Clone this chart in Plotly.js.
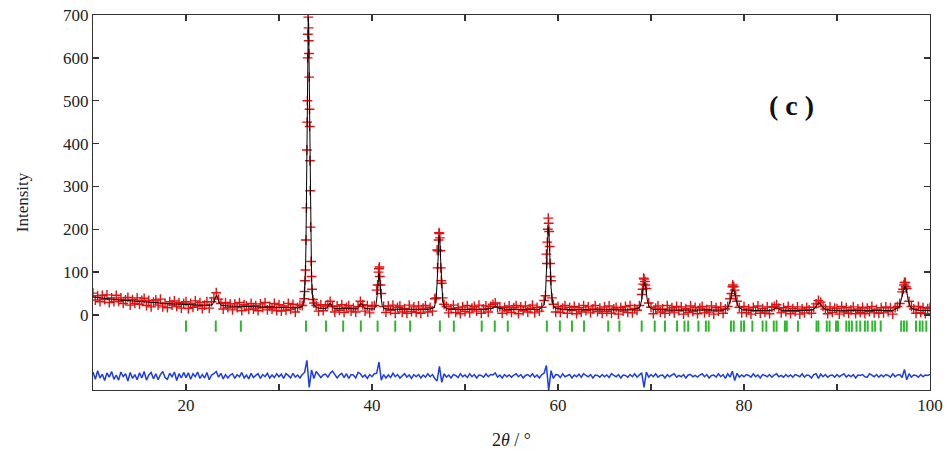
<!DOCTYPE html>
<html>
<head>
<meta charset="utf-8">
<script src="https://cdn.plot.ly/plotly-3.0.1.min.js"></script>
<style>html,body{margin:0;padding:0;background:#fff;}#chart{width:946px;height:452px;}</style>
</head>
<body>
<div id="chart"></div>
<script>
// ---- Observed intensity on a 0.25° grid from 10° to 100° ----
const obsStart = 10, obsStep = 0.25;
const obsY = [
51,35,45,31,46,36,47,29,40,31,46,32,40,27,35,41,23,36,27,40,
25,34,39,22,34,19,30,35,23,37,19,27,17,31,23,33,20,29,16,27,
31,15,27,18,33,21,29,15,23,31,16,31,40,52,37,27,14,29,17,26,
12,26,17,29,10,24,21,13,27,14,22,10,26,17,29,12,20,14,27,10,
24,9,21,11,27,13,25,7,18,23,22,55,385,555,90,28,22,9,24,10,
21,24,32,20,7,21,11,24,6,18,22,9,16,7,20,32,24,9,22,5,
20,22,58,108,50,20,6,21,11,23,4,18,21,7,15,4,23,8,19,6,
21,4,16,22,7,18,9,38,152,190,74,25,20,5,15,23,6,17,3,19,
8,22,5,16,20,9,23,4,14,21,7,20,25,28,18,19,4,18,10,21,
6,17,22,3,19,10,21,7,15,23,5,18,9,18,34,142,214,80,25,7,
20,6,16,22,4,18,11,20,3,17,7,22,10,19,5,14,22,8,16,4,
19,8,21,4,14,18,2,17,9,20,6,22,5,15,11,22,48,84,62,28,
18,3,16,21,7,14,4,22,9,17,5,20,10,19,2,15,6,21,8,18,
3,16,20,5,13,7,21,2,17,9,19,4,14,20,38,66,58,32,18,5,
20,6,14,2,18,9,21,4,15,7,19,3,18,20,24,16,5,17,8,20,
3,15,8,19,2,14,5,18,12,4,18,26,34,30,20,14,3,19,6,16,
15,2,20,7,17,4,12,19,3,14,6,18,3,16,8,20,5,13,4,17,
5,19,8,17,2,17,20,27,54,76,62,32,20,14,4,20,6,17,3,15,18
];
// extra observed points recorded across the peaks
const peakObsX = [32.7,32.8,32.85,32.9,32.95,33.02,33.05,33.08,33.1,33.13,33.15,33.18,33.2,33.22,33.28,33.3,33.32,33.35,33.4,33.45,33.55,33.65,
  40.6,40.7,40.8,40.85,40.9,46.9,47.05,47.1,47.15,47.2,47.3,47.35,47.4,47.45,47.6,
  58.65,58.8,58.85,58.9,58.95,59.05,59.1,59.15,59.2,59.35,69.1,69.15,69.2,69.35,69.4,
  78.65,78.8,78.9,79.1,97.1,97.2,97.35,97.4];
const peakObsY = [38,80,105,175,250,450,500,600,655,702,695,670,640,610,480,440,360,290,205,125,60,36,
  70,100,112,90,70,40,110,150,175,192,180,150,110,80,40,
  45,120,170,200,226,195,160,120,90,40,60,72,86,78,70,
  50,70,66,45,60,70,76,66];

// ---- Calculated profile ----
const calcX = [
10,11,12,13,14,15,16,17,18,19,
20,21,22,22.8,23.0,23.15,23.3,23.45,23.6,23.8,
24.5,26,28,30,32,32.5,32.6,32.7,32.8,32.85,
32.9,32.95,33.0,33.05,33.1,33.15,33.2,33.25,33.3,33.35,
33.4,33.45,33.5,33.6,33.7,33.8,34.2,35.1,35.3,35.5,
35.7,35.9,37,38.4,38.6,38.8,39.0,39.2,40.2,40.4,
40.55,40.65,40.75,40.85,40.95,41.1,41.3,42,44,46,
46.7,46.9,47.0,47.1,47.2,47.25,47.3,47.4,47.5,47.6,
47.8,48.2,50,52,53.0,53.3,53.6,54.5,56,58,
58.5,58.65,58.75,58.85,58.95,59.05,59.15,59.25,59.4,59.6,
60.5,62,64,66,68,68.8,69.0,69.15,69.3,69.45,
69.6,69.8,70.2,72,74,76,77.8,78.3,78.55,78.7,
78.85,79.0,79.15,79.4,79.8,81,83,83.5,84,86,
87.4,87.7,87.95,88.15,88.4,88.8,90,92,94,96,
96.7,96.95,97.15,97.3,97.45,97.65,97.9,98.4,99,100];
const calcY = [
42,39,37,35,33,31,29.5,28,26.5,25.5,
24.5,23.5,22.5,23.5,30,40,46,38,28,22.5,
21,20,18.5,17.5,16.5,20,24,36,70,105,
165,255,375,505,630,695,650,560,430,300,
200,130,85,45,28,21,16,15.5,22,28,
20,15,14.8,14.4,19,28,23,15,14,20,
45,80,98,80,45,22,15,13.6,13.2,13,
17,38,75,140,180,185,175,120,65,35,
18,13.5,13,13,16,21,16,13,13,13,
24,45,100,170,205,180,115,65,30,17,
12.5,12.5,12.3,12,12,18,35,60,76,62,
35,19,13,11.5,11.5,11,11.5,18,35,52,
60,52,35,19,12,10.5,11,17,11,10,
12,18,27,28,20,12,10,10,10,10.5,
19,40,62,68,60,35,18,12,10.5,10.5];

// ---- Difference (obs - calc) on the 0.25° grid ----
const diffY = [
9,-8,12,-5,4,-11,7,-3,10,-8,2,-10,9,-2,5,-12,8,-6,3,-9,
7,-5,10,-10,2,8,-7,5,-9,3,10,-4,-8,6,-2,9,-11,5,-5,8,
-4,7,-8,5,-2,9,-6,3,-5,8,-9,2,5,10,-3,6,-7,3,-5,2,
5,-6,3,-2,8,-5,2,-7,6,-4,1,5,-6,3,-2,6,-5,2,-4,5,
-2,4,-6,5,1,-5,6,-3,2,-5,3,8,36,-27,14,-6,10,4,-4,2,
4,-3,6,11,3,-5,2,6,-4,5,-6,3,2,-5,8,5,-3,2,-6,3,
-2,5,6,32,-10,3,-5,2,-4,6,-2,3,-5,1,5,-3,2,-6,3,-2,
3,-5,2,-3,5,-2,3,-6,-12,22,-15,5,-3,2,-5,3,1,-4,5,-2,
2,-4,5,-2,3,-5,2,1,-3,5,-2,3,2,7,-3,2,-5,3,-2,2,
-3,2,5,-2,3,-5,1,3,-2,5,-3,2,-5,3,6,24,-34,12,-6,3,
2,-4,5,-2,1,3,-5,2,-2,4,-3,5,1,-2,3,-5,2,1,-3,3,
-2,2,-4,5,1,-2,3,-5,2,1,-3,3,-2,5,-3,2,7,-27,9,-3,
3,-2,5,-3,1,2,-5,3,-2,2,5,-3,1,-2,3,-5,2,3,-2,1,
-3,2,5,-2,3,-5,1,2,-3,5,-2,3,-6,5,-3,11,-11,6,-3,2,
-2,3,1,-3,5,-2,2,-5,3,1,-2,3,-3,2,5,-2,1,-3,3,-2,
2,-3,3,1,-2,5,-3,2,1,-5,3,5,-6,4,-2,3,-3,1,2,-3,
3,-2,1,5,-3,2,-2,3,-5,2,1,3,-2,-3,5,1,-2,3,-3,2,
-2,3,1,-3,5,-2,2,3,-4,15,-9,5,-3,2,1,-3,3,-2,2,1,3
];

// ---- Bragg reflection positions ----
const braggPos = [20.0,23.2,25.9,32.9,35.05,36.9,38.8,40.6,42.5,44.1,47.3,48.8,51.8,53.2,54.6,58.8,60.2,61.5,62.8,65.4,66.6,
  69.0,70.4,71.5,72.8,73.6,74.0,75.1,75.9,76.2,78.6,78.9,79.7,80.0,80.9,82.0,82.4,83.2,83.5,84.4,84.6,85.8,
  87.8,88.0,88.9,89.2,89.9,90.1,91.0,91.3,91.6,92.1,92.5,93.0,93.3,93.8,94.1,94.7,96.9,97.2,97.5,98.5,98.9,99.2,99.6];

// ---- Axis ticks ----
const xTickVals = [20,30,40,50,60,70,80,90,100];
const xTickText = ['20','','40','','60','','80','','100'];
const yTickVals = [0,100,200,300,400,500,600,700];

// display offsets
const diffOffset = -142;
const braggRowY = -26;

const gridX = obsY.map((_, i) => obsStart + obsStep * i);
const diffX = diffY.map((_, i) => obsStart + obsStep * i);
const obsX = gridX.concat(peakObsX);
const obsAll = obsY.concat(peakObsY);

const red = 'rgb(222,18,18)';
const traces = [
  {x: obsX, y: obsAll, type: 'scatter', mode: 'markers', name: 'obs',
   marker: {symbol: 'cross-thin', size: 7, line: {width: 1.4, color: red}, color: red}},
  {x: calcX, y: calcY, type: 'scatter', mode: 'lines', name: 'calc',
   line: {color: '#000', width: 1}},
  {x: diffX, y: diffY.map(v => v + diffOffset), type: 'scatter', mode: 'lines', name: 'diff',
   line: {color: 'rgb(30,60,235)', width: 1.5}},
  {x: braggPos, y: braggPos.map(() => braggRowY), type: 'scatter', mode: 'markers', name: 'Bragg',
   marker: {symbol: 'line-ns', size: 8, line: {width: 2, color: 'rgb(45,185,45)'}}}
];

const serif = 'Liberation Serif, Times New Roman, serif';
const layout = {
  width: 946, height: 452,
  margin: {l: 93, r: 16, t: 15, b: 62},
  paper_bgcolor: '#fff', plot_bgcolor: '#fff',
  showlegend: false,
  font: {family: serif, size: 17, color: '#222'},
  xaxis: {
    range: [10, 100], tickvals: xTickVals, ticktext: xTickText,
    ticks: 'inside', ticklen: 6, tickcolor: '#333', tickwidth: 1.5,
    showline: true, linecolor: '#333', linewidth: 1, mirror: 'ticks',
    showgrid: false, zeroline: false,
    tickfont: {family: serif, size: 17, color: '#222'},
    title: {text: '2<i>θ</i> / °', font: {family: serif, size: 18, color: '#222'}, standoff: 18}
  },
  yaxis: {
    range: [-175, 700], tickvals: yTickVals,
    ticks: 'inside', ticklen: 6, tickcolor: '#333', tickwidth: 1.5,
    showline: true, linecolor: '#333', linewidth: 1, mirror: 'ticks',
    showgrid: false, zeroline: false,
    tickfont: {family: serif, size: 17, color: '#222'},
    title: {text: 'Intensity', font: {family: serif, size: 17, color: '#222'}, standoff: 30}
  },
  annotations: [
    {text: '<b>( c )</b>', xref: 'paper', yref: 'paper', x: 0.835, y: 0.76, xanchor: 'center', yanchor: 'middle',
     showarrow: false, font: {family: serif, size: 28, color: '#111'}}
  ]
};

Plotly.newPlot('chart', traces, layout, {displayModeBar: false, staticPlot: true});
</script>
</body>
</html>
